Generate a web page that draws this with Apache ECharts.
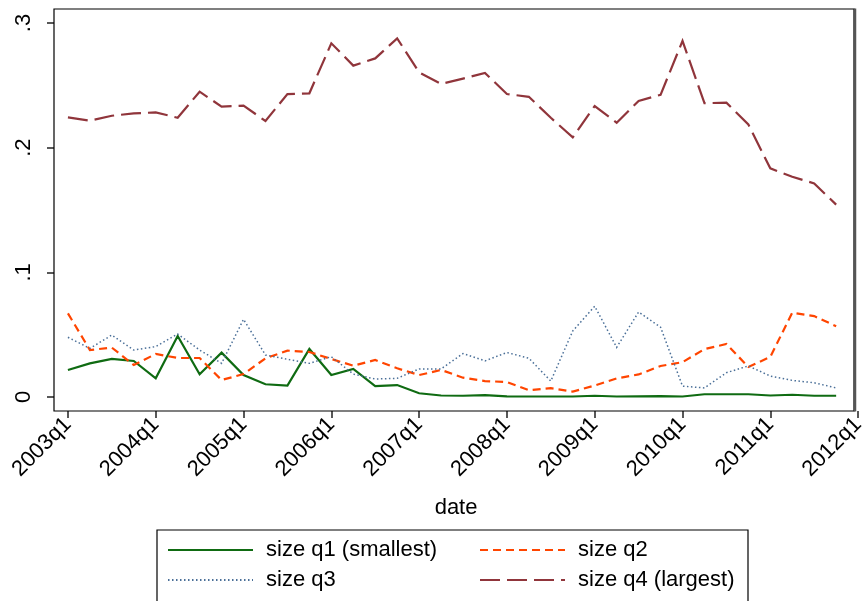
<!DOCTYPE html>
<html>
<head>
<meta charset="utf-8">
<script src="https://cdn.jsdelivr.net/npm/echarts@6/dist/echarts.min.js"></script>
<style>
  html, body { margin: 0; padding: 0; background: #fff; }
  #chart { width: 868px; height: 601px; }
</style>
</head>
<body>
<div id="chart"></div>
<script>
// Quarterly periods, 2003q1 .. 2011q4 (x position = index)
const periods = [
  '2003q1','2003q2','2003q3','2003q4','2004q1','2004q2','2004q3','2004q4',
  '2005q1','2005q2','2005q3','2005q4','2006q1','2006q2','2006q3','2006q4',
  '2007q1','2007q2','2007q3','2007q4','2008q1','2008q2','2008q3','2008q4',
  '2009q1','2009q2','2009q3','2009q4','2010q1','2010q2','2010q3','2010q4',
  '2011q1','2011q2','2011q3','2011q4'
];

// Share by firm-size quartile
const sizeQ1 = [
  0.0217, 0.0270, 0.0305, 0.0289, 0.0150, 0.0489, 0.0182, 0.0356,
  0.0176, 0.0102, 0.0091, 0.0385, 0.0176, 0.0225, 0.0088, 0.0096,
  0.0030, 0.0012, 0.0010, 0.0015, 0.0005, 0.0004, 0.0004, 0.0004,
  0.0010, 0.0004, 0.0005, 0.0007, 0.0004, 0.0022, 0.0022, 0.0022,
  0.0012, 0.0018, 0.0010, 0.0010
];
const sizeQ2 = [
  0.0671, 0.0377, 0.0396, 0.0257, 0.0345, 0.0313, 0.0313, 0.0136,
  0.0184, 0.0310, 0.0372, 0.0361, 0.0305, 0.0251, 0.0297, 0.0230,
  0.0176, 0.0217, 0.0155, 0.0128, 0.0120, 0.0055, 0.0071, 0.0043,
  0.0092, 0.0149, 0.0181, 0.0249, 0.0279, 0.0384, 0.0425, 0.0241,
  0.0322, 0.0676, 0.0649, 0.0568
];
const sizeQ3 = [
  0.0479, 0.0390, 0.0497, 0.0377, 0.0404, 0.0505, 0.0377, 0.0270,
  0.0623, 0.0337, 0.0302, 0.0270, 0.0323, 0.0184, 0.0144, 0.0150,
  0.0225, 0.0225, 0.0349, 0.0290, 0.0357, 0.0311, 0.0128, 0.0530,
  0.0728, 0.0398, 0.0682, 0.0560, 0.0087, 0.0073, 0.0195, 0.0249,
  0.0168, 0.0133, 0.0114, 0.0073
];
const sizeQ4 = [
  0.2243, 0.2216, 0.2256, 0.2275, 0.2283, 0.2240, 0.2449, 0.2329,
  0.2337, 0.2214, 0.2430, 0.2436, 0.2837, 0.2658, 0.2716, 0.2877,
  0.2604, 0.2511, 0.2554, 0.2600, 0.2430, 0.2408, 0.2240, 0.2083,
  0.2334, 0.2200, 0.2375, 0.2424, 0.2856, 0.2357, 0.2361, 0.2186,
  0.1834, 0.1767, 0.1713, 0.1543
];

const seriesNames = ['size q1 (smallest)', 'size q2', 'size q3', 'size q4 (largest)'];

// Axis ticks
const xTickValues = [0, 4, 8, 12, 16, 20, 24, 28, 32, 36];
const xTickLabels = ['2003q1','2004q1','2005q1','2006q1','2007q1','2008q1','2009q1','2010q1','2011q1','2012q1'];
const yTickValues = [0, 0.1, 0.2, 0.3];
const yTickLabels = ['0', '.1', '.2', '.3'];

const FONT = 'Liberation Sans, Arial, sans-serif';

function pairs(values) {
  return values.map((v, i) => [i, v]);
}
function labelFor(values, labels, v) {
  for (let k = 0; k < values.length; k++) {
    if (Math.abs(values[k] - v) < 1e-6) return labels[k];
  }
  return '';
}

const chart = echarts.init(document.getElementById('chart'), null, { renderer: 'canvas' });

const lineSeries = (name, data, color, width, dash) => ({
  name: name,
  type: 'line',
  data: pairs(data),
  symbol: 'none',
  smooth: false,
  animation: false,
  lineStyle: { color: color, width: width, type: dash, cap: 'butt', join: 'miter' },
  itemStyle: { color: color }
});

const legendItem = (name, left, top) => ({
  show: true,
  data: [name],
  left: left,
  top: top,
  orient: 'horizontal',
  padding: 0,
  itemWidth: 85,
  itemHeight: 14,
  selectedMode: false,
  itemStyle: { opacity: 0 },
  textStyle: { fontFamily: FONT, fontSize: 22, color: '#000', padding: [0, 0, 0, 8] }
});

chart.setOption({
  backgroundColor: '#fff',
  animation: false,
  grid: { left: 54, right: 6, top: 9, bottom: 190, containLabel: false },
  xAxis: {
    type: 'value',
    min: -0.6348,
    max: 36,
    name: 'date',
    nameLocation: 'middle',
    nameGap: 86,
    nameTextStyle: { fontFamily: FONT, fontSize: 22, color: '#000' },
    axisLine: { show: false, onZero: false },
    splitLine: { show: false },
    axisTick: { show: true, inside: false, customValues: xTickValues, length: 7, lineStyle: { color: '#222', width: 1.5 } },
    axisLabel: {
      show: true,
      customValues: xTickValues,
      rotate: 45,
      margin: 10,
      fontFamily: FONT,
      fontSize: 22,
      color: '#000',
      formatter: v => labelFor(xTickValues, xTickLabels, v)
    }
  },
  yAxis: {
    type: 'value',
    min: -0.01123,
    max: 0.31123,
    axisLine: { show: false, onZero: false },
    splitLine: { show: false },
    axisTick: { show: true, inside: false, customValues: yTickValues, length: 7, lineStyle: { color: '#222', width: 1.5 } },
    axisLabel: {
      show: true,
      customValues: yTickValues,
      rotate: 90,
      margin: 19,
      fontFamily: FONT,
      fontSize: 22,
      color: '#000',
      formatter: v => labelFor(yTickValues, yTickLabels, v)
    }
  },
  legend: [
    legendItem(seriesNames[0], 167, 539),
    legendItem(seriesNames[1], 479, 539),
    legendItem(seriesNames[2], 167, 569),
    legendItem(seriesNames[3], 479, 569)
  ],
  graphic: [
    {
      type: 'rect', z: 100, silent: true,
      shape: { x: 54, y: 9, width: 800, height: 402 },
      style: { fill: 'none', stroke: '#000', lineWidth: 1.2 }
    },
    {
      type: 'line', z: 101, silent: true,
      shape: { x1: 855, y1: 8.5, x2: 855, y2: 411.5 },
      style: { stroke: '#555', lineWidth: 2.5 }
    },
    {
      type: 'rect', z: 100, silent: true,
      shape: { x: 157, y: 530, width: 591, height: 90 },
      style: { fill: 'none', stroke: '#000', lineWidth: 1.2 }
    }
  ],
  series: [
    lineSeries(seriesNames[0], sizeQ1, '#0f6b12', 2.2, 'solid'),
    lineSeries(seriesNames[1], sizeQ2, '#ff4500', 2.2, [8, 5]),
    lineSeries(seriesNames[2], sizeQ3, '#4a6f98', 1.5, [1.5, 2.5]),
    lineSeries(seriesNames[3], sizeQ4, '#90353b', 2.2, [20, 7])
  ]
});
</script>
</body>
</html>
